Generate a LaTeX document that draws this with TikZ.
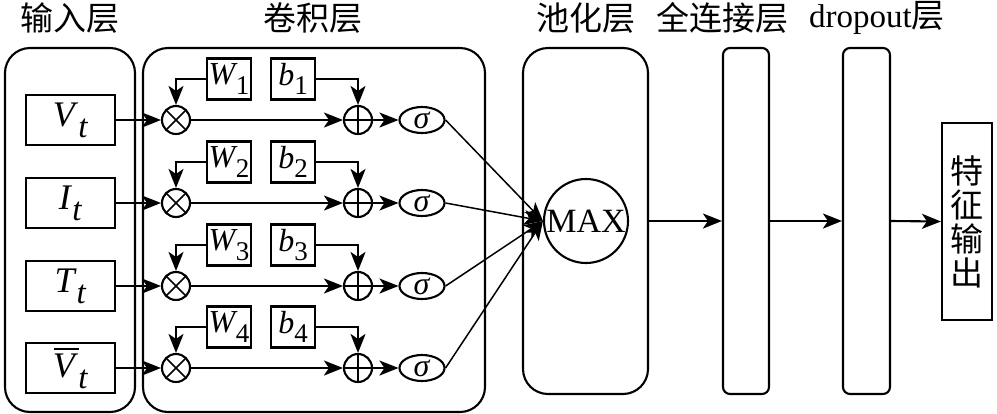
\documentclass[tikz,border=0pt]{standalone}
\usepackage{fontspec}
\setmainfont{Liberation Serif}
\newfontfamily\cjk{Noto Sans CJK SC}
\usetikzlibrary{arrows.meta,shapes.geometric}
\newcommand\mysub[2]{\raisebox{-0.3em}{\fontsize{#1}{#1}\selectfont #2}}
\newcommand\mybar[1]{{\setbox0\hbox{#1}\rlap{\kern1pt\raisebox{\dimexpr\ht0+4pt}{\rule{\wd0}{2pt}}}\box0}}
\begin{document}
\begin{tikzpicture}[x=1pt,y=-1pt,line width=2.1pt,
  >={Stealth[length=19pt,width=15pt,inset=5pt]},
  panel/.style={draw,rounded corners=25pt,minimum width=#1,minimum height=364pt,inner sep=0pt},
  bar/.style={draw,rounded corners=7pt,minimum width=#1,minimum height=346pt,inner sep=0pt},
  inbox/.style={draw,minimum width=89pt,minimum height=50pt,inner sep=0pt,font=\fontsize{36pt}{36pt}\selectfont},
  wbox/.style={draw,minimum width=44pt,minimum height=41pt,inner sep=0pt,font=\fontsize{32pt}{32pt}\selectfont},
  mul/.style={draw,circle,minimum size=28pt,inner sep=0pt,path picture={
     \draw[line width=1.7pt] (path picture bounding box.north west) -- (path picture bounding box.south east)
       (path picture bounding box.north east) -- (path picture bounding box.south west);}},
  add/.style={draw,circle,minimum size=28pt,inner sep=0pt,path picture={
     \draw[line width=1.7pt] (path picture bounding box.north) -- (path picture bounding box.south)
       (path picture bounding box.east) -- (path picture bounding box.west);}},
  sig/.style={draw,ellipse,minimum width=45pt,minimum height=26pt,inner sep=0pt,font=\fontsize{32pt}{32pt}\selectfont},
  title/.style={font=\fontsize{33pt}{33pt}\selectfont}]
\useasboundingbox (0,0) rectangle (997,413);
% titles
\node[title] (t1) at (70,18) {\cjk 输入层};
\node[title] (t2) at (313,18) {\cjk 卷积层};
\node[title] (t3) at (586,18) {\cjk 池化层};
\node[title] (t4) at (722,18) {\cjk 全连接层};
\node[title] (t5) at (877,18) {dropout{\cjk 层}};
% panels
\node[panel=130pt] (inp) at (70,230) {};
\node[panel=342pt] (conv) at (314,230) {};
\node[panel=125pt,minimum height=346pt] (pool) at (585.5,221) {};
\node[bar=46pt] (fc) at (746,221) {};
\node[bar=47pt] (drop) at (866.5,221) {};
\node[draw,minimum width=50pt,minimum height=197pt,inner sep=0pt,align=center,
  font=\fontsize{33pt}{34pt}\selectfont\cjk] (out) at (967,221.5) {特\\征\\输\\出};
% max
\node[draw,circle,minimum size=84pt,inner sep=0pt,font=\fontsize{34pt}{34pt}\selectfont] (mx) at (586,221) {MAX};
% inputs
\node[inbox] (x1) at (70.5,120) {\textit{V}\mysub{33pt}{\textit{t}}};
\node[inbox] (x2) at (70.5,203) {\textit{I}\mysub{33pt}{\textit{t}}};
\node[inbox] (x3) at (70.5,286) {\textit{T}\mysub{33pt}{\textit{t}}};
\node[inbox] (x4) at (70.5,368) {\mybar{\textit{V}}\mysub{33pt}{\textit{t}}};
% rows
\foreach \i/\y in {1/120,2/203,3/286,4/368}{
  \node[mul] (m\i) at (176,\y) {};
  \node[add] (a\i) at (358,\y) {};
  \node[sig] (s\i) at (422,\y) {\textit{σ}};
  \node[wbox] (w\i) at (229,\y-41) {\textit{W}\kern-2pt\mysub{27pt}{\i}};
  \node[wbox] (b\i) at (293,\y-41) {\textit{b}\mysub{27pt}{\i}};
  \draw[->] (x\i.east) -- (m\i.west);
  \draw[->] (m\i.east) -- (a\i.west);
  \draw[->] (a\i.east) -- (s\i.west);
  \draw[->] (w\i.west) -| (m\i.north);
  \draw[->] (b\i.east) -| (a\i.north);
  \draw[->,line width=1.5pt] (s\i.east) -- (mx.west);
}
\draw[->] (pool.east) -- (fc.west);
\draw[->] (fc.east) -- (drop.west);
\draw[->] (drop.east) -- (out.west);
\end{tikzpicture}
\end{document}
